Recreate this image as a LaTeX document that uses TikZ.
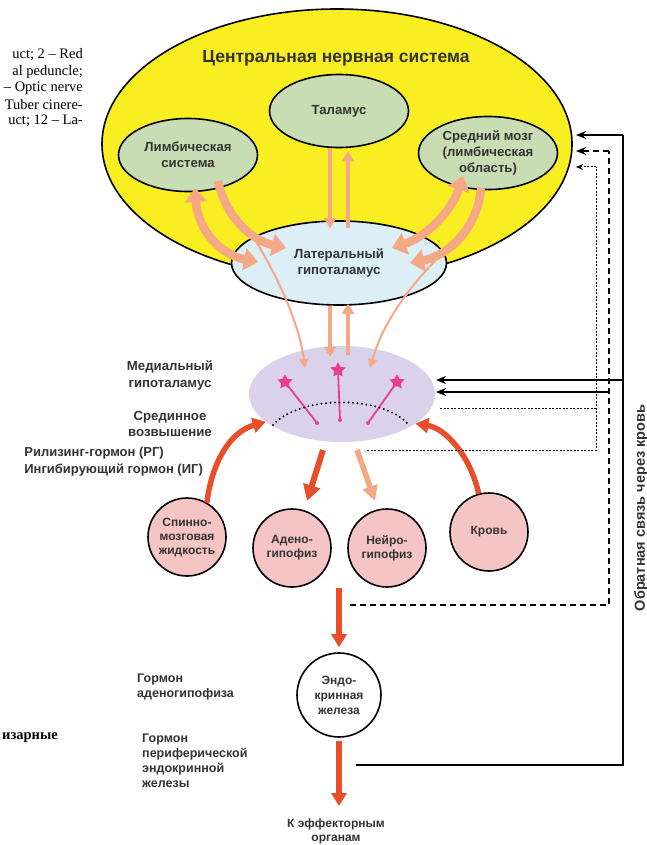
\documentclass[tikz,border=0pt]{standalone}
\usepackage{fontspec}
\setmainfont{Liberation Sans}
\newfontfamily\fragfont{Liberation Serif}
\usetikzlibrary{shapes.geometric,arrows.meta}
\definecolor{ink}{HTML}{333333}
\definecolor{cnsyellow}{HTML}{F8EE22}
\definecolor{brgreen}{HTML}{C9DDB4}
\definecolor{latblue}{HTML}{DCEEF6}
\definecolor{medlav}{HTML}{D9D2EA}
\definecolor{salmon}{HTML}{F4A885}
\definecolor{hred}{HTML}{E94E2A}
\definecolor{cpink}{HTML}{F5C4C4}
\definecolor{magen}{HTML}{E8408A}
\begin{document}
\begin{tikzpicture}[x=1pt,y=-1pt,
  font=\bfseries\fontsize{13.2}{16.3}\selectfont, text=ink,
  outl/.style={draw=black, line width=1.6pt},
  brain/.style={ellipse, outl, fill=brgreen, inner sep=0pt, align=center,
     minimum width=139pt, minimum height=73pt},
  circ/.style={circle, outl, fill=cpink, minimum size=78pt, inner sep=0pt,
     align=center, font=\bfseries\fontsize{12}{14}\selectfont},
  bigsalmon/.style={draw=salmon, line width=8.5pt},
  bighead/.style={-{Triangle[length=14pt,width=22pt]}},
  bothheads/.style={{Triangle[length=14pt,width=22pt]}-{Triangle[length=14pt,width=22pt]}},
  midarrow/.style={draw=salmon, line width=4.5pt, -{Triangle[length=10pt,width=12pt]}},
  thinarrow/.style={draw=salmon, line width=2pt, -{Triangle[length=9pt,width=9pt]}},
  redarrow/.style={draw=hred, line width=5.5pt, -{Triangle[length=13pt,width=15pt]}},
  fbsolid/.style={draw=black, line width=2pt},
  fbdashed/.style={draw=black, line width=2pt, dash pattern=on 6pt off 4pt},
  fbdotted/.style={draw=black, line width=1pt, dash pattern=on 2pt off 1.5pt},
  fbhead/.style={-{Stealth[length=10pt,width=8pt]}},
  frag/.style={font=\fragfont\fontsize{14.5}{16.5}\selectfont, text=black, anchor=east, inner sep=0pt},
  lbl/.style={align=center, inner sep=0pt},
  neuron/.style={star, star points=5, star point ratio=2, fill=magen, minimum size=16pt, inner sep=0pt}
]
\useasboundingbox (0,0) rectangle (647,845);
\fill[white] (0,0) rectangle (647,845);

% fragments of surrounding page text
\node[frag] (f1) at (83,55) {uct; 2 – Red};
\node[frag] (f2) at (83,72) {al peduncle;};
\node[frag] (f3) at (83,88) {– Optic nerve};
\node[frag] (f4) at (83,105) {Tuber cinere-};
\node[frag] (f5) at (83,121) {uct; 12 – La-};
\node[frag, font=\fragfont\bfseries\fontsize{14.5}{16.5}\selectfont] (f6) at (58,738) {изарные};

% central nervous system
\node[ellipse, outl, fill=cnsyellow, minimum width=470pt, minimum height=270pt, inner sep=0pt] (cns) at (337,144) {};
\node[font=\bfseries\fontsize{17.5}{20}\selectfont] (cnstitle) at (336,58) {Центральная нервная система};
\node[brain] (thal) at (339,111) {Таламус};
\node[brain] (limb) at (188,155) {Лимбическая\\система};
\node[brain] (mid) at (488,153) {Средний мозг\\(лимбическая\\область)};
\node[ellipse, outl, fill=latblue, minimum width=215pt, minimum height=84pt, inner sep=0pt, align=center] (lat) at (339,263) {Латеральный\\гипоталамус};

% medial hypothalamus
\node[ellipse, fill=medlav, minimum width=186pt, minimum height=96pt, inner sep=0pt] (med) at (342,394) {};

% thick arrows limbic / midbrain <-> lateral
\coordinate (lo1) at (195,188); \coordinate (lo2) at (258,262);
\coordinate (li1) at (218,181); \coordinate (li2) at (286,248);
\coordinate (ri1) at (392,248); \coordinate (ri2) at (463,176);
\coordinate (ro1) at (481,188); \coordinate (ro2) at (410,263);
\draw[bigsalmon, bothheads] (lo1) .. controls (198,232) and (222,255) .. (lo2);
\draw[bigsalmon, bighead] (li1) .. controls (225,215) and (250,240) .. (li2);
\draw[bigsalmon, bothheads] (ri1) .. controls (428,236) and (452,210) .. (ri2);
\draw[bigsalmon, bighead] (ro1) .. controls (478,228) and (448,256) .. (ro2);

% thalamus <-> lateral
\draw[midarrow] ([xshift=-9pt]thal.south) -- ([xshift=-9pt,yshift=-8pt]lat.north);
\draw[midarrow] ([xshift=9pt,yshift=-8pt]lat.north) -- ([xshift=9pt,yshift=-3pt]thal.south);

% lateral -> medial
\coordinate (tl1) at (257,243); \coordinate (tl2) at (305,368);
\coordinate (tr1) at (444,252); \coordinate (tr2) at (370,368);
\draw[thinarrow] (tl1) .. controls (285,290) and (300,330) .. (tl2);
\draw[thinarrow] (tr1) .. controls (420,275) and (385,315) .. (tr2);
\draw[midarrow] ([xshift=-9pt]lat.south) -- ([xshift=-12pt,yshift=-11pt]med.north);
\draw[midarrow] ([xshift=6pt,yshift=-9pt]med.north) -- ([xshift=9pt,yshift=2pt]lat.south);

% neurons in medial hypothalamus
\coordinate (e1) at (317,423); \coordinate (e2) at (340,420); \coordinate (e3) at (368,423);
\node[neuron] (s1) at (285,382) {};
\node[neuron] (s2) at (338,370) {};
\node[neuron] (s3) at (397,382) {};
\draw[magen, line width=1.8pt] (s1.center) -- (e1);
\draw[magen, line width=1.8pt] (s2.center) -- (e2);
\draw[magen, line width=1.8pt] (s3.center) -- (e3);
\fill[magen] (e1) circle (2pt) (e2) circle (2pt) (e3) circle (2pt);
\draw[black, line width=2.2pt, line cap=round, dash pattern=on 0pt off 4.5pt]
  (273,425) .. controls (300,395) and (382,395) .. (408,424);

% side labels
\node[lbl] (lmed) at (170,375.5) {Медиальный\\гипоталамус};
\node[lbl] (lse) at (170,424) {Срединное\\возвышение};
\node[lbl, align=left, anchor=east, font=\bfseries\fontsize{13}{17}\selectfont] (lrg) at (203,461.5) {Рилизинг-гормон (РГ)\\Ингибирующий гормон (ИГ)};

% circles
\node[circ] (csf) at (187,537) {Спинно-\\мозговая\\жидкость};
\node[circ] (adeno) at (292,548) {Адено-\\гипофиз};
\node[circ] (neuro) at (387,548) {Нейро-\\гипофиз};
\node[circ] (blood) at (489,532) {Кровь};

\draw[redarrow] (csf.60) .. controls (212,462) and (230,432) .. (med.200);
\draw[redarrow] (blood.105) .. controls (470,455) and (445,428) .. (med.-22);
\coordinate (adtop) at (307,501); \coordinate (nutop) at (375,501);
\draw[draw=hred, line width=6pt, -{Triangle[length=16pt,width=17pt]}] (323,450) -- (adtop);
\draw[draw=salmon, line width=5.5pt, -{Triangle[length=15pt,width=15pt]}] (357,450) -- (nutop);

% endocrine gland
\node[circle, outl, fill=white, minimum size=84pt, inner sep=0pt, align=center,
      font=\bfseries\fontsize{12}{15}\selectfont] (endo) at (339,695) {Эндо-\\кринная\\железа};
\coordinate (adbot) at (339,588);
\coordinate (eff) at (339,806);
\draw[redarrow] (adbot) -- ([yshift=5pt]endo.north);
\draw[redarrow] ([yshift=-3pt]endo.south) -- (eff);
\node[lbl, font=\bfseries\fontsize{12}{14}\selectfont] (effl) at (336,831) {К эффекторным\\органам};

\node[lbl, align=left, anchor=west, font=\bfseries\fontsize{12.5}{15.5}\selectfont] (lag) at (137,687) {Гормон\\аденогипофиза};
\node[lbl, align=left, anchor=west, font=\bfseries\fontsize{12.5}{15}\selectfont] (lpe) at (142,761) {Гормон\\периферической\\эндокринной\\железы};

% feedback through blood
\coordinate (sA) at (623,135); \coordinate (sB) at (623,380); \coordinate (sC) at (623,765);
\coordinate (sD) at (356,765);
\coordinate (dA) at (609,151); \coordinate (dB) at (609,392); \coordinate (dC) at (609,605);
\coordinate (dD) at (350,605);
\coordinate (oA) at (596,167); \coordinate (oB) at (596,408); \coordinate (oC) at (596,450);
\coordinate (oD) at (367,450); \coordinate (oE) at (440,408);
\draw[fbsolid] (sD) -- (sC) -- (sA);
\draw[fbsolid, fbhead] (sA) -- (576,135);
\draw[fbsolid, fbhead] (sB) -- (436,380);
\draw[fbdashed] (dD) -- (dC) -- (dA);
\draw[fbdashed, fbhead] (dA) -- (576,151);
\draw[draw=black, line width=1.5pt, fbhead] (dB) -- (436,392);
\draw[fbdotted] (oD) -- (oC) -- (oA);
\draw[fbdotted, -{Stealth[length=7pt,width=6pt]}] (oA) -- (576,167);
\draw[fbdotted] (oB) -- (oE);
\node[rotate=90, font=\bfseries\fontsize{14.5}{16}\selectfont, inner sep=0pt] (fbl) at (641,508) {Обратная связь через кровь};
\end{tikzpicture}
\end{document}
